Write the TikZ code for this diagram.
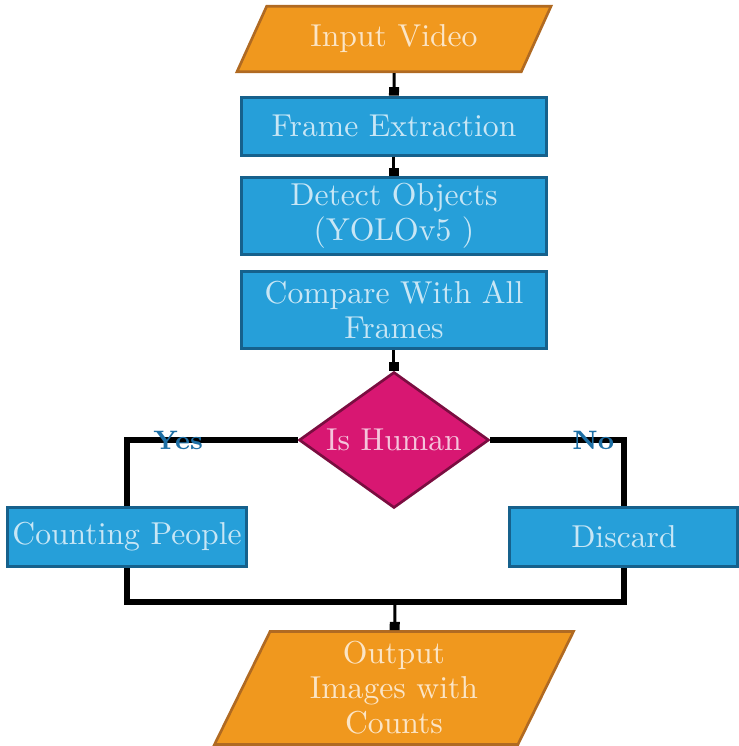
\documentclass[tikz,border=0pt]{standalone}
\usetikzlibrary{shapes.geometric,arrows.meta}
\definecolor{ioorange}{HTML}{F0981E}
\definecolor{ioedge}{HTML}{B06A22}
\definecolor{procblue}{HTML}{269FD9}
\definecolor{procedge}{HTML}{16618C}
\definecolor{decpink}{HTML}{D81772}
\definecolor{decedge}{HTML}{7A0D40}
\definecolor{labelblue}{HTML}{1D6FA5}
\tikzset{
	io/.style={trapezium, trapezium stretches body, fill=ioorange, draw=ioedge, line width=0.8pt, inner xsep=0pt, text=white, text opacity=0.75, align=center},
	proc/.style={rectangle, fill=procblue, draw=procedge, line width=0.9pt, minimum width=91.5pt, inner sep=0pt, text=white, text opacity=0.75, align=center},
	decision/.style={diamond, aspect=1.4, fill=decpink, draw=decedge, line width=0.8pt, minimum width=57pt, minimum height=40.8pt, inner sep=0pt, text=white, text opacity=0.75},
	flow/.style={-{Rectangle[length=2.5pt,width=3pt]}, line width=0.9pt},
	branch/.style={line width=1.8pt},
	answer/.style={text=labelblue, font=\fontsize{8}{9}\selectfont\bfseries}
}
\begin{document}
\begin{tikzpicture}[x=0.3pt, y=-0.3pt, font=\fontsize{9.5}{10.5}\selectfont]
		\useasboundingbox (0,0) rectangle (738,746);
		\node[io, trapezium left angle=65.6, trapezium right angle=114.4, inner ysep=5.6pt, minimum width=94.2pt, minimum height=19.2pt] at (394,39) (input) {Input Video};
		\node[proc, below of=input, node distance=26.1pt, minimum height=17.4pt] (frame) {Frame Extraction};
		\node[proc, below of=frame, node distance=27pt, minimum height=23.1pt] (detect) {Detect Objects\\(YOLOv5 )};
		\node[proc, below of=detect, node distance=28.2pt, minimum height=23.1pt] (compare) {Compare With All\\Frames};
		\node[decision, below of=compare, node distance=39pt] (human) {Is Human};
		\node[proc, minimum width=72pt, minimum height=17.7pt] at (127,537) (count) {Counting People};
		\node[proc, minimum width=68.4pt, minimum height=17.7pt] at (624,537) (discard) {Discard};
		\node[io, trapezium left angle=63.8, trapezium right angle=116.2, inner ysep=3pt, minimum width=107.7pt, minimum height=33.6pt, below of=human, node distance=74.4pt] (output) {Output\\Images with\\Counts};
		\coordinate (join) at (395,602);
		
		\draw[flow] (input) -- (frame);
		\draw[flow] (frame) -- (detect);
		\draw[flow] (compare) -- (human);
		\draw[branch] (human.west) -| node[answer, pos=0.35] {Yes} (count.north);
		\draw[branch] (human.east) -| node[answer, pos=0.385] {No} (discard.north);
		\draw[branch] (count.south) |- (join) -| (discard.south);
		\draw[flow] (join) -- (output);
		\end{tikzpicture}
\end{document}
